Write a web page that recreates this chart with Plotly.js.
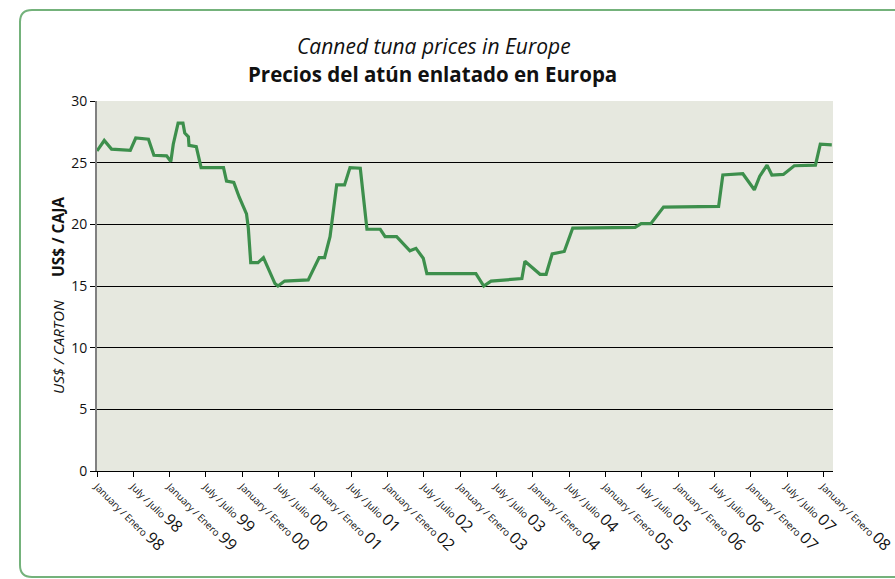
<!DOCTYPE html>
<html>
<head>
<meta charset="utf-8">
<script src="https://cdn.plot.ly/plotly-3.0.1.min.js"></script>
<style>html,body{margin:0;padding:0;background:#fff;}#chart{width:895px;height:579px;}</style>
</head>
<body>
<div id="chart"></div>
<script>
// Months elapsed since January 1998
var months = [0, 1.2, 2.4, 5.5, 6.4, 8.5, 9.4, 11.5, 12.2, 12.6, 13.4, 14.2, 14.5, 15.1, 15.2, 16.4, 17.2, 20.9, 21.4, 22.6, 23.5, 24.7, 25.0, 25.4, 26.6, 27.5, 29.4, 29.9, 31.0, 34.9, 36.7, 37.6, 38.5, 39.6, 40.9, 41.8, 43.5, 43.8, 44.1, 44.6, 46.8, 47.6, 49.5, 51.7, 52.7, 53.7, 53.9, 54.5, 62.6, 63.9, 65.1, 70.2, 70.7, 73.2, 74.2, 75.2, 77.2, 78.6, 88.9, 89.9, 91.5, 93.6, 102.7, 103.4, 106.7, 108.6, 109.5, 110.7, 111.5, 113.4, 115.2, 118.7, 119.5, 121.4];
// US$ per carton
var prices = [25.95, 26.8, 26.1, 26.0, 27.0, 26.9, 25.6, 25.55, 25.1, 26.5, 28.2, 28.2, 27.4, 27.1, 26.4, 26.3, 24.6, 24.6, 23.5, 23.4, 22.2, 20.85, 19.7, 16.9, 16.9, 17.3, 15.2, 15.0, 15.4, 15.5, 17.3, 17.3, 19.0, 23.2, 23.2, 24.6, 24.55, 23.3, 21.8, 19.6, 19.6, 19.0, 19.0, 17.85, 18.05, 17.4, 17.25, 16.0, 16.0, 15.0, 15.4, 15.6, 17.0, 15.95, 15.95, 17.6, 17.8, 19.7, 19.75, 20.05, 20.05, 21.4, 21.45, 24.0, 24.1, 22.8, 23.9, 24.8, 24.0, 24.05, 24.75, 24.8, 26.5, 26.45];

var tickMonths = [0, 6, 12, 18, 24, 30, 36, 42, 48, 54, 60, 66, 72, 78, 84, 90, 96, 102, 108, 114, 120];
var tickPeriods = ["January / Enero", "July / Julio", "January / Enero", "July / Julio", "January / Enero", "July / Julio", "January / Enero", "July / Julio", "January / Enero", "July / Julio", "January / Enero", "July / Julio", "January / Enero", "July / Julio", "January / Enero", "July / Julio", "January / Enero", "July / Julio", "January / Enero", "July / Julio", "January / Enero"];
var tickYears = ["98", "98", "99", "99", "00", "00", "01", "01", "02", "02", "03", "03", "04", "04", "05", "05", "06", "06", "07", "07", "08"];
var yTicks = [0, 5, 10, 15, 20, 25, 30];

var titleEn = "Canned tuna prices in Europe";
var titleEs = "Precios del atún enlatado en Europa";
var yTitleEn = "US$ / CARTON";
var yTitleEs = "US$ / CAJA";

var tickText = tickPeriods.map(function (p, i) {
  return p + ' <span style="font-size:16px">' + tickYears[i] + '</span>';
});

var W = 895, H = 579, L = 97, R = 833, T = 101, B = 471;
function px(x) { return (x - L) / (R - L); }
function py(y) { return (B - y) / (B - T); }

var bl = px(20), br = px(905), bt = py(10), bb = py(577);
var rx = 12 / (R - L), ry = 12 / (B - T);
var boxPath = 'M ' + br + ',' + bt + ' L ' + (bl + rx) + ',' + bt + ' Q ' + bl + ',' + bt + ' ' + bl + ',' + (bt - ry) +
  ' L ' + bl + ',' + (bb + ry) + ' Q ' + bl + ',' + bb + ' ' + (bl + rx) + ',' + bb + ' L ' + br + ',' + bb;

var font = "Open Sans, Noto Sans, sans-serif";

var trace = {
  x: months, y: prices, type: 'scatter', mode: 'lines',
  line: { color: '#3d8f4c', width: 3.2, shape: 'linear' },
  hoverinfo: 'skip'
};

var layout = {
  width: W, height: H,
  margin: { l: L, r: W - R, t: T, b: H - B, pad: 0 },
  paper_bgcolor: '#ffffff',
  plot_bgcolor: '#e6e8df',
  showlegend: false,
  font: { family: font, color: '#111' },
  xaxis: {
    range: [0, 121.6], tickmode: 'array', tickvals: tickMonths, ticktext: tickText,
    tickangle: 45, tickfont: { size: 9.8, family: font, color: '#111' },
    ticklabeloverflow: 'allow',
    ticks: 'outside', ticklen: 5, tickcolor: '#000', tickwidth: 1,
    showline: true, linecolor: '#000', linewidth: 1.2, showgrid: false, zeroline: false,
    automargin: false, fixedrange: true
  },
  yaxis: {
    range: [0, 30], tickmode: 'array', tickvals: yTicks,
    tickfont: { size: 14, family: font, color: '#111' },
    ticks: 'outside', ticklen: 5, tickcolor: '#000', tickwidth: 1,
    showline: true, linecolor: '#808080', linewidth: 2,
    showgrid: true, gridcolor: '#000', gridwidth: 1, zeroline: false,
    automargin: false, fixedrange: true
  },
  shapes: [
    { type: 'path', xref: 'paper', yref: 'paper', path: boxPath, line: { color: '#74b27b', width: 2 }, fillcolor: 'rgba(0,0,0,0)' }
  ],
  annotations: [
    { xref: 'paper', yref: 'paper', x: px(434), y: py(46), text: '<i>' + titleEn + '</i>', showarrow: false,
      xanchor: 'center', yanchor: 'middle', font: { size: 21, family: font, color: '#111' } },
    { xref: 'paper', yref: 'paper', x: px(432), y: py(74), text: '<b>' + titleEs + '</b>', showarrow: false,
      xanchor: 'center', yanchor: 'middle', font: { size: 20.5, family: font, color: '#111' } },
    { xref: 'paper', yref: 'paper', x: px(58), y: py(347), text: '<i>' + yTitleEn + '</i>', showarrow: false,
      textangle: -90, xanchor: 'center', yanchor: 'middle', font: { size: 15, family: font, color: '#111' } },
    { xref: 'paper', yref: 'paper', x: px(58), y: py(237), text: '<b>' + yTitleEs + '</b>', showarrow: false,
      textangle: -90, xanchor: 'center', yanchor: 'middle', font: { size: 15.5, family: font, color: '#111' } }
  ]
};

Plotly.newPlot('chart', [trace], layout, { displayModeBar: false, staticPlot: true });
</script>
</body>
</html>
